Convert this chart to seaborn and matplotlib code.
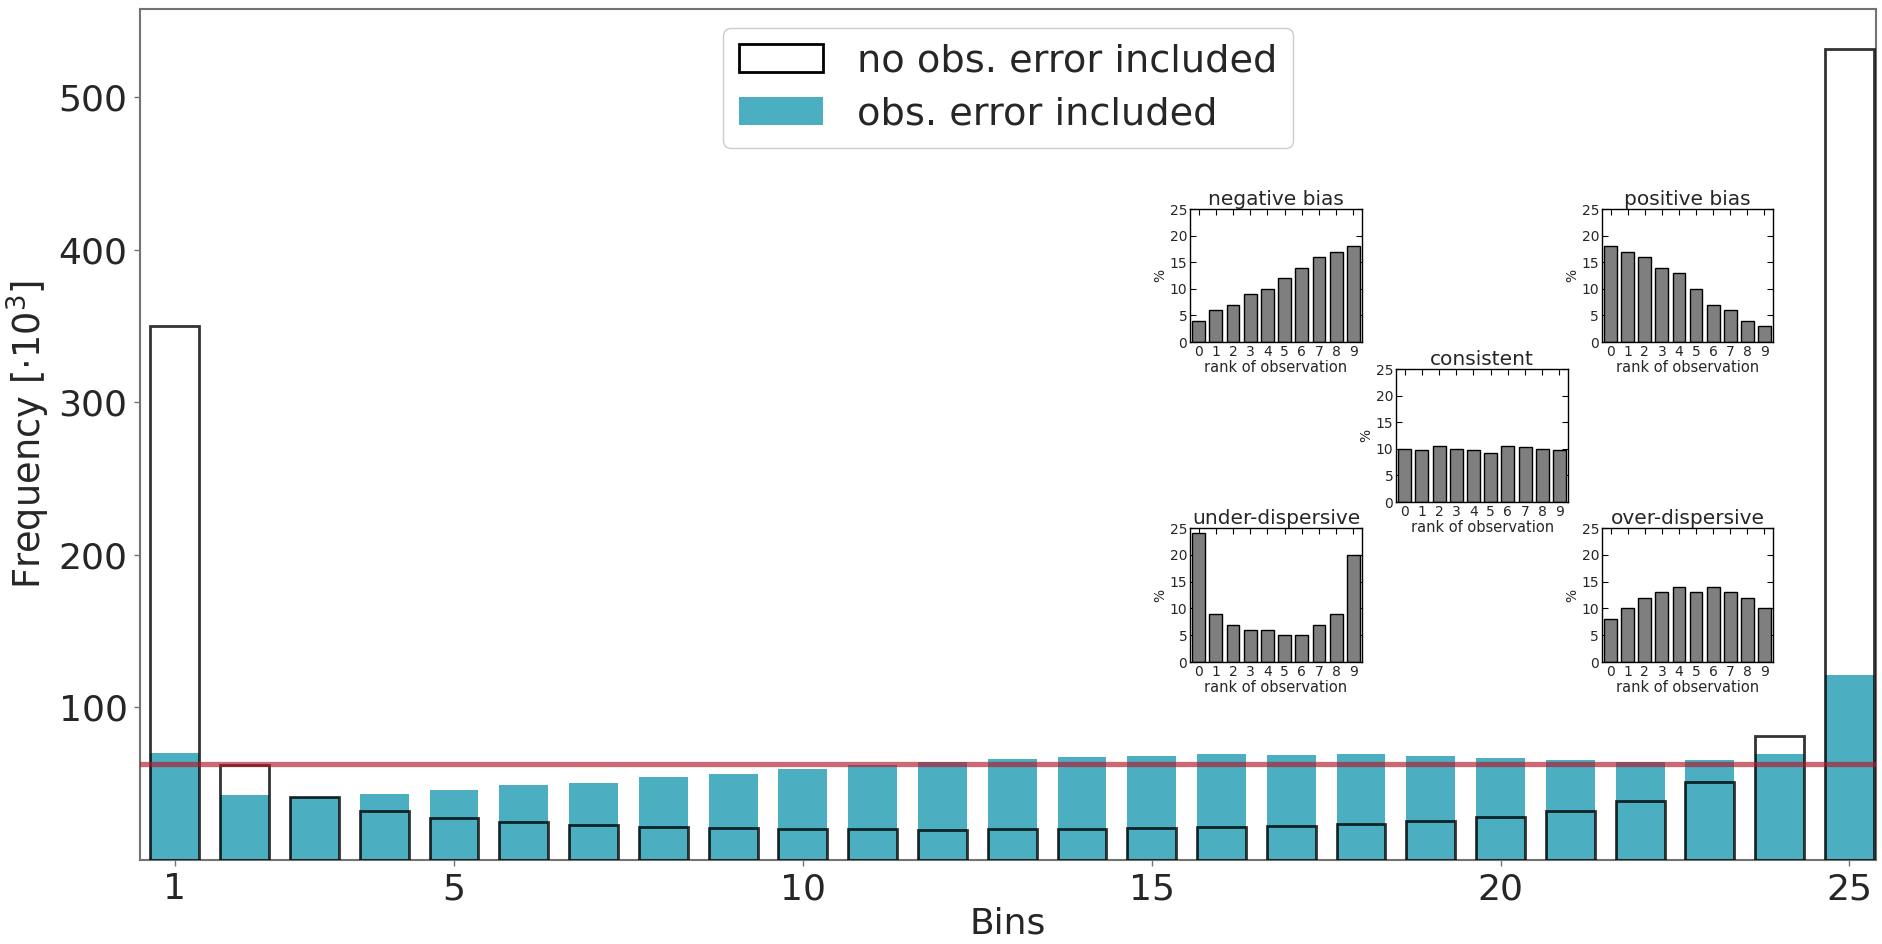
"""
Rank histogram of the forecast ensemble, with and without observation error,
plus five small reference rank histograms showing the typical shapes.
"""

import matplotlib.pyplot as plt
import numpy as np
import pandas as pd
import seaborn as sns
from matplotlib.patches import Patch

# main histogram (frequency in thousands)
bins = list(range(1, 26))
freq_no_obs_err = [350, 62.3, 41.3, 32.1, 27.8, 24.7, 23.2, 21.9, 20.8, 20.3,
                   20.3, 19.7, 20.3, 20.3, 20.8, 21.6, 22.3, 23.6, 25.5, 28.0,
                   32.1, 38.5, 51.0, 81.5, 532]
freq_obs_err = [70.4, 42.6, 41.5, 43.1, 45.7, 49.0, 50.8, 54.4, 56.4, 59.7,
                62.0, 64.3, 66.0, 67.5, 68.4, 69.3, 68.8, 69.2, 68.4, 66.9,
                65.8, 64.3, 65.4, 69.3, 121]
flat_level = 63

# reference shapes (% per rank)
rank = list(range(10))
negative_bias = [4, 6, 7, 9, 10, 12, 14, 16, 17, 18]
positive_bias = [18, 17, 16, 14, 13, 10, 7, 6, 4, 3]
consistent = [10.05, 9.7, 10.5, 9.9, 9.85, 9.2, 10.6, 10.4, 10.05, 9.7]
under_dispersive = [24, 9, 7, 6, 6, 5, 5, 7, 9, 20]
over_dispersive = [8, 10, 12, 13, 14, 13, 14, 13, 12, 10]

teal = '#4bafc1'

sns.set_style('white')
plt.rcParams['font.family'] = ['DejaVu Sans']

fig = plt.figure(figsize=(18.82, 9.44), dpi=100)
ax = fig.add_axes([0.0744, 0.089, 0.9224, 0.9015])

main = pd.DataFrame({'bin': bins, 'no_err': freq_no_obs_err, 'err': freq_obs_err})

sns.barplot(data=main, x='bin', y='err', native_scale=True, width=0.7,
            color=teal, saturation=1, errorbar=None, linewidth=0, ax=ax)
sns.barplot(data=main, x='bin', y='no_err', native_scale=True, width=0.7,
            fill=False, color='black', errorbar=None, ax=ax)
for p in ax.containers[1]:
    p.set_facecolor('none')
    p.set_edgecolor((0, 0, 0, 0.8))
    p.set_linewidth(2)
    p.set_zorder(3)

ax.axhline(flat_level, color='#b2182b', alpha=0.65, lw=3.8, zorder=4)

ax.set_xlim(0.5, 25.38)
ax.set_ylim(0, 558)
ax.set_xticks([1, 5, 10, 15, 20, 25])
ax.set_yticks([100, 200, 300, 400, 500])
ax.tick_params(axis='both', labelsize=26, length=4, width=1, color='0.45',
               direction='out', bottom=True, left=True, pad=5)
for s in ax.spines.values():
    s.set_color('0.45')
    s.set_linewidth(1.5)
ax.set_xlabel('Bins', fontsize=26, labelpad=0)
ax.set_ylabel('Frequency [$\\cdot10^3$]', fontsize=26.5, labelpad=5)

handles = [Patch(facecolor='white', edgecolor='black', linewidth=2),
           Patch(facecolor=teal, edgecolor='none')]
ax.legend(handles, ['no obs. error included', 'obs. error included'],
          loc='upper center', fontsize=27.5, handlelength=2.2, handleheight=0.75,
          handletextpad=0.9, borderpad=0.4, labelspacing=0.45,
          frameon=True, fancybox=True, edgecolor='0.8', framealpha=1)

# small reference histograms
insets = [
    ('negative bias', negative_bias, [0.6323, 0.6377, 0.0914, 0.1409]),
    ('positive bias', positive_bias, [0.8512, 0.6377, 0.0909, 0.1409]),
    ('consistent', consistent, [0.7418, 0.4682, 0.0914, 0.1409]),
    ('under-dispersive', under_dispersive, [0.6323, 0.2987, 0.0914, 0.1419]),
    ('over-dispersive', over_dispersive, [0.8512, 0.2987, 0.0909, 0.1419]),
]
for title, vals, rect in insets:
    iax = fig.add_axes(rect)
    df = pd.DataFrame({'rank': rank, 'pct': vals})
    sns.barplot(data=df, x='rank', y='pct', color='#7f7f7f', saturation=1,
                width=0.75, edgecolor='black', linewidth=1, errorbar=None, ax=iax)
    iax.set_xlim(-0.5, 9.5)
    iax.set_ylim(0, 25)
    iax.set_yticks([0, 5, 10, 15, 20, 25])
    iax.tick_params(direction='in', top=True, right=True, bottom=True, left=True,
                    length=4, width=0.8, color='black', labelsize=10, pad=2)
    for s in iax.spines.values():
        s.set_color('black')
        s.set_linewidth(1)
    iax.set_title(title, fontsize=14.5, pad=3)
    iax.set_xlabel('rank of observation', fontsize=10.5, labelpad=1)
    iax.set_ylabel('%', fontsize=10, labelpad=2)

plt.savefig('out.png', dpi=100)
